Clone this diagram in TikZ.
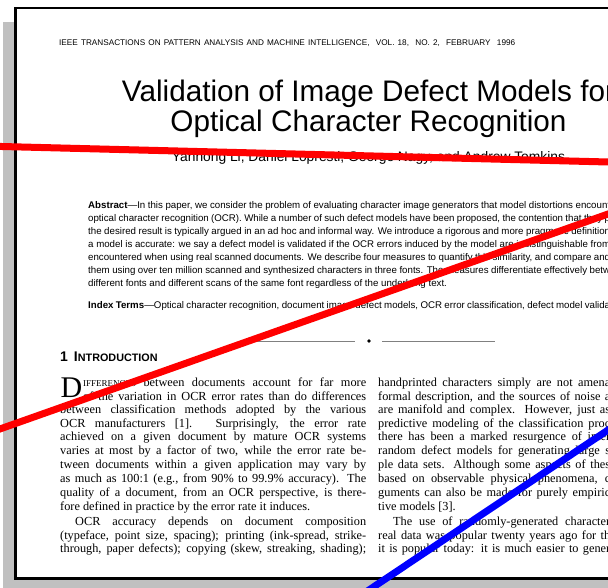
\documentclass[tikz,border=0pt]{standalone}
\usepackage{fontspec}
\setmainfont{Liberation Serif}
\setsansfont{Liberation Sans}
\usetikzlibrary{shapes.geometric}
\newcommand{\jline}[2]{\makebox[#1][s]{#2}}
\tikzset{
  txt/.style={anchor=base west, inner sep=0pt},
  body/.style={txt, font=\fontsize{12.3}{12.3}\selectfont},
  abst/.style={txt, font=\sffamily\fontsize{9.7}{9.7}\selectfont},
  stroke/.style={line width=7pt},
}
\begin{document}
\begin{tikzpicture}[x=1pt,y=-1pt]
\useasboundingbox (0,0) rectangle (608,588);
\clip (0,0) rectangle (608,588);
% shadow and sheet
\fill[fill={rgb,255:red,192;green,192;blue,192}] (2.5,22) rectangle (640,600);
\draw[fill=white, line width=2.5pt] (15.3,8) rectangle (660,578.3);
% header and title
\node(hdr) at (59,46) [txt, font=\sffamily\fontsize{8.2}{8.2}\selectfont] {\jline{456pt}{IEEE TRANSACTIONS ON PATTERN ANALYSIS AND MACHINE INTELLIGENCE,\ \ VOL. 18,\ \ NO. 2,\ \ FEBRUARY\ \ 1996}};
\node(t1) at (368.5,101.7) [anchor=base, inner sep=0pt, font=\sffamily\fontsize{29.7}{29.7}\selectfont] {Validation of Image Defect Models for};
\node(t2) at (368.5,131.7) [anchor=base, inner sep=0pt, font=\sffamily\fontsize{29.7}{29.7}\selectfont] {Optical Character Recognition};
\node(au) at (368.5,162) [anchor=base, inner sep=0pt, font=\sffamily\fontsize{13.8}{13.8}\selectfont] {Yanhong Li, Daniel Lopresti, George Nagy, and Andrew Tomkins};
% abstract
\node(a1) at (88,209) [abst] {\jline{522pt}{\textbf{Abstract}---In this paper, we consider the problem of evaluating character image generators that model distortions encount}};
\node(a2) at (88,222) [abst] {\jline{522pt}{optical character recognition (OCR). While a number of such defect models have been proposed, the contention that they p}};
\node(a3) at (88,235) [abst] {\jline{522pt}{the desired result is typically argued in an ad hoc and informal way. We introduce a rigorous and more pragmatic definition}};
\node(a4) at (88,248) [abst] {\jline{522pt}{a model is accurate: we say a defect model is validated if the OCR errors induced by the model are indistinguishable from}};
\node(a5) at (88,261) [abst] {\jline{522pt}{encountered when using real scanned documents. We describe four measures to quantify this similarity, and compare and}};
\node(a6) at (88,273.5) [abst] {\jline{522pt}{them using over ten million scanned and synthesized characters in three fonts. The measures differentiate effectively betw}};
\node(a7) at (88,286.5) [abst] {different fonts and different scans of the same font regardless of the underlying text.};
\node(it) at (88,308.5) [abst] {\jline{522pt}{\textbf{Index Terms}---Optical character recognition, document image defect models, OCR error classification, defect model valida}};
% separator
\draw[gray, line width=0.8pt] (242,341) -- (355,341);
\draw[gray, line width=0.8pt] (382,341) -- (495,341);
\node(dm) at (369,341) [diamond, fill=black, inner sep=0pt, minimum size=4pt] {};
\node(sec) at (60,361) [txt, font=\sffamily\bfseries\fontsize{14}{14}\selectfont] {1\hspace{6pt}I{\fontsize{10.8}{10.8}\selectfont NTRODUCTION}};
% left column
\node(dc) at (60.5,397.7) [txt, font=\fontsize{30}{30}\selectfont] {D};
\node(l1) at (83,386) [body] {\jline{283pt}{{\fontsize{9}{9}\selectfont IFFERENCES} between documents account for far more}};
\node(l2) at (83,400) [body] {\jline{283pt}{of the variation in OCR error rates than do differences}};
\node(l3) at (60,413) [body] {\jline{306pt}{between classification methods adopted by the various}};
\node(l4) at (60,427) [body] {\jline{306pt}{OCR manufacturers [1]. Surprisingly, the error rate}};
\node(l5) at (60,440) [body] {\jline{306pt}{achieved on a given document by mature OCR systems}};
\node(l6) at (60,454) [body] {\jline{306pt}{varies at most by a factor of two, while the error rate be-}};
\node(l7) at (60,468) [body] {\jline{306pt}{tween documents within a given application may vary by}};
\node(l8) at (60,482) [body] {\jline{306pt}{as much as 100:1 (e.g., from 90\% to 99.9\% accuracy). The}};
\node(l9) at (60,496) [body] {\jline{306pt}{quality of a document, from an OCR perspective, is there-}};
\node(l10) at (60,510) [body] {fore defined in practice by the error rate it induces.};
\node(l11) at (75,525) [body] {\jline{291pt}{OCR accuracy depends on document composition}};
\node(l12) at (60,539) [body] {\jline{306pt}{(typeface, point size, spacing); printing (ink-spread, strike-}};
\node(l13) at (60,552) [body] {\jline{306pt}{through, paper defects); copying (skew, streaking, shading);}};
% right column
\node(r1) at (378,386) [body] {\jline{232pt}{handprinted characters simply are not amena}};
\node(r2) at (378,400) [body] {\jline{232pt}{formal description, and the sources of noise a}};
\node(r3) at (378,413) [body] {\jline{232pt}{are manifold and complex. However, just as}};
\node(r4) at (378,427) [body] {\jline{232pt}{predictive modeling of the classification proc}};
\node(r5) at (378,440) [body] {\jline{232pt}{there has been a marked resurgence of inter}};
\node(r6) at (378,454) [body] {\jline{232pt}{random defect models for generating large s}};
\node(r7) at (378,468) [body] {\jline{232pt}{ple data sets. Although some aspects of thes}};
\node(r8) at (378,482) [body] {\jline{232pt}{based on observable physical phenomena, c}};
\node(r9) at (378,496) [body] {\jline{232pt}{guments can also be made for purely empiric}};
\node(r10) at (378,510) [body] {tive models [3].};
\node(r11) at (393,525) [body] {\jline{217pt}{The use of randomly-generated character}};
\node(r12) at (378,539) [body] {\jline{232pt}{real data was popular twenty years ago for th}};
\node(r13) at (378,552) [body] {\jline{232pt}{it is popular today: it is much easier to gener}};
% strokes across the page
\coordinate(ra) at (-10,146.2);
\coordinate(rb) at (620,162.3);
\coordinate(rc) at (-10,432.5);
\coordinate(rd) at (620,209.8);
\coordinate(ba) at (354,600);
\coordinate(bb) at (620,422);
\draw[stroke, red] (ra) -- (rb);
\draw[stroke, red] (rc) -- (rd);
\draw[stroke, blue] (ba) -- (bb);
\end{tikzpicture}
\end{document}
